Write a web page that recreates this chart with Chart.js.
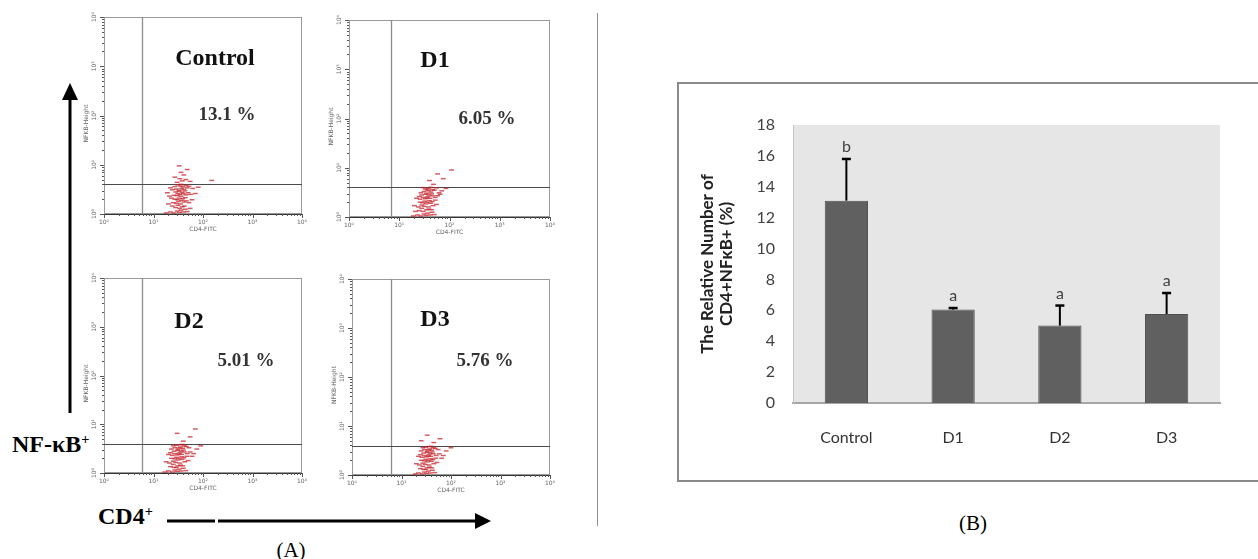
<!DOCTYPE html>
<html><head><meta charset="utf-8">
<script src="https://cdn.jsdelivr.net/npm/chart.js@4.4.1/dist/chart.umd.min.js"></script>
<style>
html,body{margin:0;padding:0;background:#fff;}
body{width:1258px;height:559px;position:relative;overflow:hidden;}
canvas{position:absolute;}
.t{position:absolute;font-family:"Liberation Serif","Times New Roman",serif;font-weight:bold;color:#111;white-space:nowrap;transform:translate(-50%,-50%);line-height:1;}
.l{position:absolute;font-family:"Liberation Serif","Times New Roman",serif;font-weight:bold;color:#000;white-space:nowrap;transform:translate(0,-50%);line-height:1;}
.l sup{font-size:60%;vertical-align:0.55em;line-height:0;}
.p{position:absolute;font-family:"Liberation Serif","Times New Roman",serif;color:#000;white-space:nowrap;transform:translate(-50%,-50%);line-height:1;}
</style></head><body>

<div style="position:absolute;left:597px;top:13px;width:1px;height:513px;background:#8f8f8f"></div>
<div style="position:absolute;left:677px;top:82px;width:700px;height:396px;border:2px solid #8a8a8a"></div>

<svg width="1258" height="559" style="position:absolute;left:0;top:0">
<line x1="70" y1="98" x2="70" y2="413" stroke="#000" stroke-width="3"/>
<polygon points="70,83 62,100 78,100" fill="#000"/>
<line x1="167" y1="521" x2="215" y2="521" stroke="#000" stroke-width="3"/>
<line x1="218" y1="521" x2="477" y2="521" stroke="#000" stroke-width="3"/>
<polygon points="491,521 475,513 475,529" fill="#000"/>
</svg>

<div class="l" style="left:12px;top:444px;font-size:24px">NF-κB<sup>+</sup></div>
<div class="l" style="left:98px;top:516px;font-size:24px">CD4<sup>+</sup></div>
<div class="p" style="left:291px;top:550px;font-size:21px">(A)</div>
<div class="p" style="left:973px;top:523px;font-size:21px">(B)</div>

<script>
// ---------- Panel A data ----------
const flowPanels = ['Control', 'D1', 'D2', 'D3'];
const flowPercent = ['13.1 %', '6.05 %', '5.01 %', '5.76 %'];
const gateCD4 = [5.9, 6.9, 5.9, 6.2];
const gateNFkB = [4.1, 4.1, 3.9, 3.9];
const decadeTicks = [1, 10, 100, 1000, 10000];
const decadeLabels = ['10⁰', '10¹', '10²', '10³', '10⁴'];
const minorSteps = [2, 3, 4, 5, 6, 7, 8, 9];

const cellsControl = [
 [18,1.05],[22,1.1],[26,1.05],[30,1.15],[33,1.08],[36,1.2],[40,1.1],[44,1.25],[48,1.12],[55,1.3],[28,1.35],[38,1.4],[24,1.45],[34,1.3],[42,1.45],[31,1.5],
 [20,1.6],[25,1.7],[29,1.65],[32,1.8],[35,1.6],[37,1.9],[41,1.75],[46,1.85],[52,1.7],[60,1.95],[27,2.0],[33,2.1],[39,2.05],[44,2.15],[23,2.1],[30,1.95],
 [21,2.3],[26,2.4],[30,2.35],[34,2.5],[36,2.3],[40,2.6],[45,2.45],[50,2.7],[28,2.8],[33,2.9],[38,2.75],[43,2.95],[56,2.5],[70,2.6],[19,2.7],[31,2.6],
 [24,3.1],[29,3.2],[33,3.05],[37,3.3],[41,3.15],[48,3.4],[27,3.6],[35,3.7],[39,3.55],[45,3.8],[31,3.9],[52,3.65],[62,3.3],[80,3.5],[22,3.4],[36,4.0],
 [30,4.4],[38,4.7],[34,5.2],[45,5.0],[27,5.6],[41,6.2],[55,4.6],[36,7.0],[48,8.0],[33,9.5],[150,4.8]];
const cellsD1 = [
 [19,1.05],[23,1.1],[27,1.05],[31,1.15],[34,1.08],[37,1.2],[41,1.1],[45,1.25],[50,1.12],[25,1.35],[30,1.3],[35,1.4],[39,1.45],[28,1.5],[44,1.4],[21,1.3],
 [20,1.7],[24,1.6],[28,1.75],[31,1.65],[34,1.85],[38,1.6],[42,1.9],[47,1.7],[55,1.8],[26,2.0],[32,2.1],[36,2.0],[40,2.15],[45,2.05],[29,1.95],[52,2.2],
 [22,2.4],[26,2.3],[30,2.5],[33,2.35],[37,2.6],[41,2.4],[46,2.7],[52,2.5],[28,2.8],[34,2.9],[39,2.8],[44,2.95],[58,2.7],[65,2.9],[25,2.6],[36,2.45],
 [27,3.1],[31,3.3],[35,3.05],[39,3.4],[43,3.2],[50,3.5],[33,3.7],[38,3.8],[46,3.6],[55,3.9],[30,3.95],[42,4.0],[70,3.4],[85,3.8],[62,3.1],[36,3.55],
 [48,4.6],[40,5.5],[75,6.0],[58,7.5],[110,9.0]];
const cellsD2 = [
 [17,1.05],[20,1.1],[24,1.05],[27,1.15],[30,1.08],[33,1.2],[36,1.1],[40,1.25],[45,1.12],[22,1.35],[26,1.3],[31,1.4],[35,1.45],[25,1.5],[39,1.4],[29,1.3],
 [18,1.7],[21,1.6],[25,1.75],[28,1.65],[31,1.85],[34,1.6],[38,1.9],[43,1.7],[50,1.8],[23,2.0],[29,2.1],[33,2.0],[37,2.15],[41,2.05],[27,1.95],[47,2.2],
 [20,2.4],[24,2.3],[27,2.5],[30,2.35],[34,2.6],[37,2.4],[42,2.7],[48,2.5],[26,2.8],[31,2.9],[36,2.8],[40,2.95],[55,2.7],[65,2.5],[22,2.6],[33,2.45],
 [23,3.1],[27,3.3],[31,3.05],[35,3.4],[39,3.2],[46,3.5],[29,3.7],[34,3.8],[42,3.6],[52,3.3],[75,3.1],[90,3.6],[60,2.2],[38,3.85],[25,3.6],[33,3.25],
 [40,4.5],[55,5.5],[30,6.5],[70,8.0]];
const cellsD3 = [
 [19,1.05],[22,1.1],[26,1.05],[29,1.15],[32,1.08],[35,1.2],[38,1.1],[42,1.25],[47,1.12],[24,1.35],[28,1.3],[33,1.4],[37,1.45],[27,1.5],[41,1.4],[31,1.3],
 [20,1.7],[23,1.6],[27,1.75],[30,1.65],[33,1.85],[36,1.6],[40,1.9],[45,1.7],[52,1.8],[25,2.0],[31,2.1],[35,2.0],[39,2.15],[43,2.05],[29,1.95],[49,2.2],
 [22,2.4],[26,2.3],[29,2.5],[32,2.35],[36,2.6],[39,2.4],[44,2.7],[50,2.5],[28,2.8],[33,2.9],[38,2.8],[42,2.95],[58,2.7],[70,2.5],[24,2.6],[35,2.45],
 [25,3.1],[29,3.3],[33,3.05],[37,3.4],[41,3.2],[48,3.5],[31,3.7],[36,3.8],[44,3.6],[55,3.3],[80,3.1],[100,3.6],[65,2.2],[40,3.85],[27,3.6],[35,3.25],
 [45,4.6],[60,5.5],[33,6.5],[25,5.0]];
const flowCells = [cellsControl, cellsD1, cellsD2, cellsD3];

// ---------- Panel B data ----------
const categories = ['Control', 'D1', 'D2', 'D3'];
const meanValues = [13.1, 6.05, 5.01, 5.76];
const sdValues = [2.7, 0.1, 1.3, 1.36];
const sigLetters = ['b', 'a', 'a', 'a'];
const yAxisTitle = ['The Relative Number of', 'CD4+NFκB+ (%)'];

// ---------- layout ----------
const frames = [
  {l:104, t:17, w:198, h:197, name:[215,57], pct:[227,113]},
  {l:349, t:20, w:201, h:197, name:[435,59], pct:[487,117]},
  {l:104, t:278, w:198, h:195, name:[189,320], pct:[246,359]},
  {l:352, t:279, w:198, h:196, name:[435,318], pct:[485,359]}
];

const flowDecor = {
  id: 'flowDecor',
  beforeDatasetsDraw(chart) {
    const {ctx, chartArea: a, scales: {x, y}} = chart;
    const o = chart.options.plugins.flowDecor;
    ctx.save();
    ctx.strokeStyle = '#9a9a9a'; ctx.lineWidth = 1;
    ctx.strokeRect(a.left + 0.5, a.top + 0.5, a.width - 1, a.height - 1);
    const gx = Math.round(x.getPixelForValue(o.gx)) + 0.5;
    ctx.strokeStyle = '#8c8c8c'; ctx.lineWidth = 1.3;
    ctx.beginPath(); ctx.moveTo(gx, a.top); ctx.lineTo(gx, a.bottom); ctx.stroke();
    const gy = Math.round(y.getPixelForValue(o.gy)) + 0.5;
    ctx.strokeStyle = '#4a4a4a'; ctx.lineWidth = 1;
    ctx.beginPath(); ctx.moveTo(a.left, gy); ctx.lineTo(a.right, gy); ctx.stroke();
    ctx.restore();
  },
  afterDraw(chart) {
    const {ctx, chartArea: a, scales: {x, y}} = chart;
    ctx.save();
    ctx.strokeStyle = '#555'; ctx.lineWidth = 1;
    ctx.beginPath();
    decadeTicks.forEach((d, k) => {
      const px = Math.round(x.getPixelForValue(d)) + 0.5;
      const py = Math.round(y.getPixelForValue(d)) + 0.5;
      ctx.moveTo(px, a.bottom); ctx.lineTo(px, a.bottom + 4);
      ctx.moveTo(a.left, py); ctx.lineTo(a.left - 4, py);
      if (k < decadeTicks.length - 1) {
        minorSteps.forEach(m => {
          const mx = Math.round(x.getPixelForValue(d * m)) + 0.5;
          const my = Math.round(y.getPixelForValue(d * m)) + 0.5;
          ctx.moveTo(mx, a.bottom); ctx.lineTo(mx, a.bottom + 2);
          ctx.moveTo(a.left, my); ctx.lineTo(a.left - 2, my);
        });
      }
    });
    ctx.stroke();
    ctx.fillStyle = '#666';
    ctx.font = '6px "DejaVu Sans"';
    ctx.textAlign = 'center'; ctx.textBaseline = 'middle';
    decadeTicks.forEach((v, k) => {
      ctx.fillText(decadeLabels[k], x.getPixelForValue(v), a.bottom + 8);
      ctx.save();
      ctx.translate(a.left - 10, y.getPixelForValue(v));
      ctx.rotate(-Math.PI / 2);
      ctx.fillText(decadeLabels[k], 0, 0);
      ctx.restore();
    });
    ctx.fillText('CD4-FITC', (a.left + a.right) / 2, a.bottom + 15);
    ctx.save();
    ctx.translate(a.left - 18, (a.top + a.bottom) / 2 + 8);
    ctx.rotate(-Math.PI / 2);
    ctx.fillText('NFKB-Height', 0, 0);
    ctx.restore();
    ctx.restore();
  }
};

function makeFlow(i) {
  const f = frames[i];
  const padL = 30, padT = 6, padR = 8, padB = 30;
  const cv = document.createElement('canvas');
  cv.width = f.w + padL + padR; cv.height = f.h + padT + padB;
  cv.style.left = (f.l - padL) + 'px'; cv.style.top = (f.t - padT) + 'px';
  document.body.appendChild(cv);
  const axis = (fit, col) => ({
    type: 'logarithmic', min: 1, max: 10000,
    ticks: {display: false, autoSkip: false},
    grid: {display: false, drawTicks: false},
    border: {display: true, color: col, width: 1},
    afterFit: fit
  });
  new Chart(cv, {
    type: 'scatter',
    data: {datasets: [{
      data: flowCells[i],
      pointStyle: 'line', pointRadius: 2.4, pointBorderWidth: 1.5,
      pointBorderColor: 'rgba(196,28,38,0.72)', pointBackgroundColor: 'rgba(196,28,38,0.72)',
      borderColor: 'rgba(196,28,38,0.72)'
    }]},
    options: {
      responsive: false, animation: false, events: [],
      layout: {padding: {left: 0, top: padT, right: padR, bottom: 0}},
      plugins: {legend: {display: false}, tooltip: {enabled: false},
        flowDecor: {gx: gateCD4[i], gy: gateNFkB[i]}},
      scales: {
        x: axis(s => { s.height = padB; }, '#333'),
        y: axis(s => { s.width = padL; }, '#888')
      }
    },
    plugins: [flowDecor]
  });
  const n = document.createElement('div');
  n.className = 't'; n.style.left = f.name[0] + 'px'; n.style.top = f.name[1] + 'px';
  n.style.fontSize = '24px'; n.textContent = flowPanels[i];
  document.body.appendChild(n);
  const p = document.createElement('div');
  p.className = 't'; p.style.left = f.pct[0] + 'px'; p.style.top = f.pct[1] + 'px';
  p.style.fontSize = '19px'; p.style.color = '#333'; p.textContent = flowPercent[i];
  document.body.appendChild(p);
}

const barDecor = {
  id: 'barDecor',
  beforeDraw(chart) {
    const {ctx, chartArea: a} = chart;
    ctx.save();
    ctx.fillStyle = '#e6e6e6';
    ctx.fillRect(a.left, a.top, a.width, a.height);
    ctx.restore();
  },
  afterDatasetsDraw(chart) {
    const {ctx, scales: {y}} = chart;
    const meta = chart.getDatasetMeta(0);
    ctx.save();
    meta.data.forEach((bar, i) => {
      const top = y.getPixelForValue(meanValues[i] + sdValues[i]);
      ctx.strokeStyle = '#000';
      ctx.lineWidth = 2;
      ctx.beginPath(); ctx.moveTo(bar.x, bar.y); ctx.lineTo(bar.x, top); ctx.stroke();
      ctx.lineWidth = 2.5;
      ctx.beginPath(); ctx.moveTo(bar.x - 4.5, top); ctx.lineTo(bar.x + 4.5, top); ctx.stroke();
      ctx.fillStyle = '#404040';
      ctx.font = '16px Lato';
      ctx.textAlign = 'center'; ctx.textBaseline = 'middle';
      ctx.fillText(sigLetters[i], bar.x, top - 12);
    });
    ctx.restore();
  }
};

function makeBar() {
  const cv = document.createElement('canvas');
  cv.width = 576; cv.height = 392;
  cv.style.left = '680px'; cv.style.top = '86px';
  document.body.appendChild(cv);
  new Chart(cv, {
    type: 'bar',
    data: {labels: categories, datasets: [{
      data: meanValues, backgroundColor: '#606060', borderColor: '#505050', borderWidth: 1,
      barPercentage: 0.405, categoryPercentage: 1
    }]},
    options: {
      responsive: false, animation: false, events: [],
      layout: {padding: {top: 39, right: 36, left: 0, bottom: 0}},
      plugins: {legend: {display: false}, tooltip: {enabled: false}},
      scales: {
        x: {
          grid: {display: false, drawTicks: false},
          border: {display: true, color: '#a6a6a6', width: 2},
          ticks: {padding: 25, color: '#333', font: {family: 'Lato', size: 16}},
          afterFit(s) { s.height = 75; }
        },
        y: {
          min: 0, max: 18,
          ticks: {stepSize: 2, padding: 18, color: '#404040', font: {family: 'Lato', size: 16}},
          grid: {display: false, drawTicks: false},
          border: {display: true, color: '#c4c4c4', width: 1},
          title: {display: true, text: yAxisTitle, color: '#222',
            font: {family: 'Lato', size: 17, weight: 'bold', lineHeight: 19 / 17},
            padding: {top: 18, bottom: 0}},
          afterFit(s) { s.width = 113; }
        }
      }
    },
    plugins: [barDecor]
  });
}

Promise.all([
  document.fonts.load('16px Lato'), document.fonts.load('bold 17px Lato'),
  document.fonts.load('6px "DejaVu Sans"')
]).catch(() => {}).then(() => {
  for (let i = 0; i < 4; i++) makeFlow(i);
  makeBar();
});
</script>
</body></html>
